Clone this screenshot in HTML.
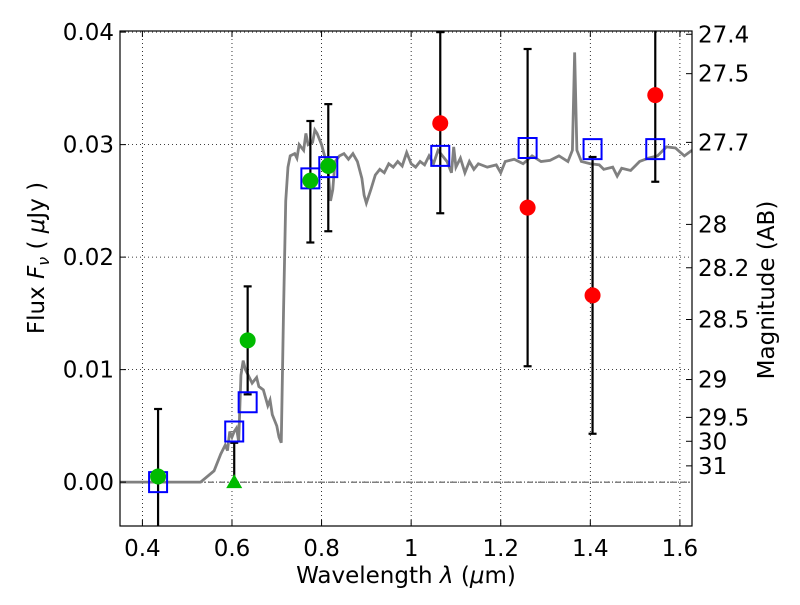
<!DOCTYPE html>
<html><head><meta charset="utf-8"><style>
body{margin:0;background:#fff}
svg text{font-family:"DejaVu Sans","Liberation Sans",sans-serif;fill:#000}
</style></head><body>
<svg id="chart" width="800" height="600" xmlns="http://www.w3.org/2000/svg"></svg>
<script>
const specWave=[0.35,0.53,0.56,0.575,0.585,0.59,0.595,0.6,0.605,0.61,0.615,0.62,0.625,0.63,0.64,0.645,0.655,0.66,0.67,0.675,0.68,0.685,0.69,0.7,0.705,0.71,0.715,0.72,0.725,0.73,0.74,0.745,0.75,0.76,0.765,0.77,0.78,0.785,0.79,0.8,0.81,0.815,0.82,0.825,0.83,0.84,0.85,0.86,0.87,0.88,0.89,0.895,0.9,0.91,0.92,0.93,0.94,0.95,0.96,0.97,0.98,0.99,1.0,1.01,1.02,1.03,1.04,1.05,1.06,1.07,1.08,1.09,1.095,1.1,1.11,1.12,1.13,1.14,1.15,1.17,1.19,1.2,1.21,1.23,1.25,1.27,1.29,1.31,1.33,1.35,1.36,1.365,1.37,1.38,1.4,1.42,1.43,1.45,1.46,1.47,1.49,1.51,1.53,1.55,1.57,1.59,1.61,1.627];
const specFlux=[0,0,0.001,0.0025,0.0033,0.0028,0.0045,0.004,0.0045,0.0048,0.0036,0.0095,0.0108,0.01,0.0092,0.0088,0.0093,0.0085,0.0082,0.0075,0.0068,0.0073,0.006,0.005,0.004,0.0035,0.015,0.025,0.028,0.029,0.0292,0.0288,0.03,0.0295,0.031,0.03,0.0302,0.0313,0.031,0.03,0.0285,0.0275,0.025,0.026,0.0285,0.029,0.0292,0.0287,0.0292,0.0285,0.027,0.0255,0.0248,0.026,0.0273,0.0278,0.0275,0.0283,0.028,0.0285,0.0281,0.0293,0.0283,0.028,0.0285,0.0282,0.029,0.0283,0.0295,0.029,0.0285,0.0275,0.0298,0.028,0.0288,0.0275,0.0285,0.0278,0.0283,0.028,0.0282,0.0275,0.0285,0.0287,0.0283,0.029,0.0285,0.0286,0.029,0.0285,0.0295,0.0382,0.0295,0.0285,0.0283,0.0282,0.0278,0.028,0.0272,0.0279,0.0277,0.0285,0.0288,0.029,0.0298,0.0297,0.029,0.0295];
const obsWave=[0.435,0.605,0.635,0.775,0.815,1.065,1.26,1.405,1.545];
const obsFlux=[0.0005,0,0.0126,0.0268,0.0281,0.0319,0.0244,0.0166,0.0344];
const obsErrHi=[0.0065,0.0035,0.0174,0.0321,0.0336,0.040,0.0385,0.0289,0.041];
const obsErrLo=[-0.006,0,0.0078,0.0213,0.0223,0.0239,0.0103,0.0043,0.0267];
const obsColor=['green','tri','green','green','green','red','red','red','red'];
const modelWave=[0.435,0.605,0.635,0.775,0.815,1.065,1.26,1.405,1.545];
const modelFlux=[0,0.0045,0.0071,0.027,0.028,0.029,0.0297,0.0296,0.0296];
const xTicks=[0.4,0.6,0.8,1.0,1.2,1.4,1.6];
const xTickLabels=['0.4','0.6','0.8','1','1.2','1.4','1.6'];
const yTicks=[0,0.01,0.02,0.03,0.04];
const yTickLabels=['0.00','0.01','0.02','0.03','0.04'];
const magTicks=[27.4,27.5,27.7,28,28.2,28.5,29,29.5,30,31];

const L=120,R=692,T=31,B=526,XMIN=0.35,XMAX=1.627,YMIN=-0.0039,YMAX=0.0401;
const sx=v=>L+(v-XMIN)/(XMAX-XMIN)*(R-L);
const sy=v=>B-(v-YMIN)/(YMAX-YMIN)*(B-T);
const svg=document.getElementById('chart');
const NS='http://www.w3.org/2000/svg';
function mk(tag,attrs,parent){const e=document.createElementNS(NS,tag);for(const k in attrs)e.setAttribute(k,attrs[k]);(parent||svg).appendChild(e);return e;}
const defs=mk('defs',{});const cp=mk('clipPath',{id:'clip'},defs);mk('rect',{x:L,y:T,width:R-L,height:B-T},cp);
const plot=mk('g',{'clip-path':'url(#clip)'});


xTicks.forEach(t=>{const g=mk('line',{x1:sx(t),x2:sx(t),y1:T,y2:B,stroke:'#000','stroke-width':0.8,'stroke-dasharray':'1,3'},plot);

});
yTicks.forEach(t=>{const g=mk('line',{x1:L,x2:R,y1:sy(t),y2:sy(t),stroke:'#000','stroke-width':0.8,'stroke-dasharray':'1,3'},plot);

});
const zl=mk('line',{x1:L,x2:R,y1:sy(0),y2:sy(0),stroke:'#000','stroke-width':0.8,'stroke-dasharray':'6,2,1,2'},plot);


const sp=mk('polyline',{points:specWave.map((w,i)=>sx(w)+','+sy(specFlux[i])).join(' '),fill:'none',stroke:'#808080','stroke-width':2.8},plot);


obsWave.forEach((w,i)=>{const g=mk('g',{stroke:'#000','stroke-width':2.2},plot);


const x=sx(w);mk('line',{x1:x,x2:x,y1:sy(obsErrHi[i]),y2:sy(obsErrLo[i])},g);
mk('line',{x1:x-4,x2:x+4,y1:sy(obsErrHi[i]),y2:sy(obsErrHi[i])},g);
mk('line',{x1:x-4,x2:x+4,y1:sy(obsErrLo[i]),y2:sy(obsErrLo[i])},g);});
modelWave.forEach((w,i)=>{const r=mk('rect',{x:sx(w)-9,y:sy(modelFlux[i])-10,width:18,height:20,fill:'none',stroke:'#0000ff','stroke-width':2},plot);

});
obsWave.forEach((w,i)=>{const x=sx(w),y=sy(obsFlux[i]);let e;
if(obsColor[i]==='tri'){e=mk('polygon',{points:`${x},${y-8} ${x-8},${y+6} ${x+8},${y+6}`,fill:'#00bb00'},plot);}
else e=mk('circle',{cx:x,cy:y,r:8,fill:obsColor[i]==='red'?'#ff0000':'#00bb00'},plot);

});
const fr=mk('rect',{x:L,y:T,width:R-L,height:B-T,fill:'none',stroke:'#000','stroke-width':1.2});


xTicks.forEach((t,i)=>{const x=sx(t);mk('line',{x1:x,x2:x,y1:B,y2:B-6,stroke:'#000'});mk('line',{x1:x,x2:x,y1:T,y2:T+6,stroke:'#000'});
const tx=mk('text',{x:x,y:B+30,'text-anchor':'middle','font-size':23});tx.textContent=xTickLabels[i];

});
yTicks.forEach((t,i)=>{const y=sy(t);mk('line',{x1:L,x2:L+6,y1:y,y2:y,stroke:'#000'});
const tx=mk('text',{x:L-6,y:y+8,'text-anchor':'end','font-size':23});tx.textContent=yTickLabels[i];

});
magTicks.forEach(m=>{const y=sy(Math.pow(10,(23.9-m)/2.5));mk('line',{x1:R,x2:R-6,y1:y,y2:y,stroke:'#000'});
const tx=mk('text',{x:R+6,y:y+8,'font-size':23});tx.textContent=String(m);

});
</script>
<svg style="position:absolute;left:0;top:0" width="800" height="600">
<text x="406" y="583" text-anchor="middle" font-size="23">Wavelength  <tspan font-style="italic">λ</tspan> (<tspan font-style="italic">μ</tspan>m)</text>
<text transform="translate(44,258) rotate(-90)" text-anchor="middle" font-size="23">Flux  <tspan font-style="italic">F<tspan font-size="16" dy="5">ν</tspan></tspan><tspan dy="-5">  (  </tspan><tspan font-style="italic">μ</tspan>Jy )</text>
<text transform="translate(774,290) rotate(-90)" text-anchor="middle" font-size="23">Magnitude (AB)</text>
</svg>
</body></html>
